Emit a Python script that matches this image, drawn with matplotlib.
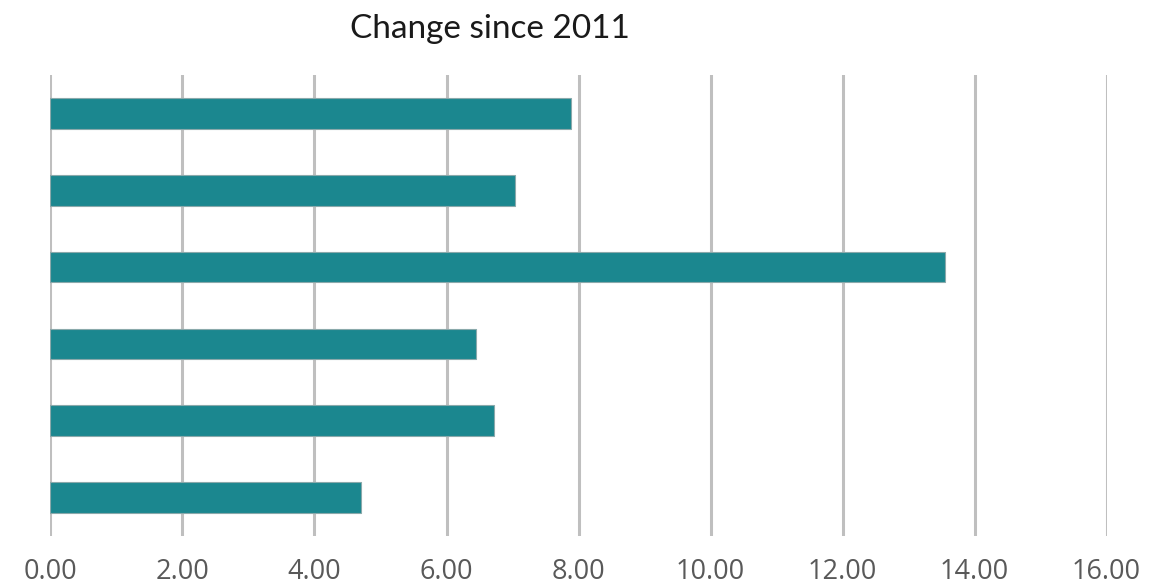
import matplotlib.pyplot as plt
import numpy as np

# values, top bar first
categories = ["1", "2", "3", "4", "5", "6"]
change = [7.89, 7.04, 13.56, 6.45, 6.72, 4.70]
x_ticks = [0, 2, 4, 6, 8, 10, 12, 14, 16]

bar_color = "#1b878f"
grid_color = "#bfbfbf"

fig = plt.figure(figsize=(11.5, 5.87), dpi=100)
ax = fig.add_axes([0.0439, 0.0869, 0.9183, 0.7853])

y = np.arange(len(categories))
ax.barh(y, change, height=0.40, color=bar_color, edgecolor="#8aa9ab",
        linewidth=0.8, zorder=3)

ax.set_xlim(0, 16)
ax.set_ylim(len(categories) - 0.5, -0.5)
ax.set_xticks(x_ticks)
ax.set_xticklabels([f"{t:.2f}" for t in x_ticks])
ax.set_yticks([])

ax.grid(axis="x", color=grid_color, linewidth=2.2, zorder=0)
for s in ax.spines.values():
    s.set_visible(False)

ax.tick_params(axis="x", length=0, pad=16, labelsize=19.5, labelcolor="#595959")
for lbl in ax.get_xticklabels():
    lbl.set_fontfamily("Open Sans")

fig.text(0.426, 0.951, "Change since 2011", ha="center", va="center",
         fontsize=24, family="Lato", color="#1a1a1a")

fig.savefig("out.png", dpi=100)
